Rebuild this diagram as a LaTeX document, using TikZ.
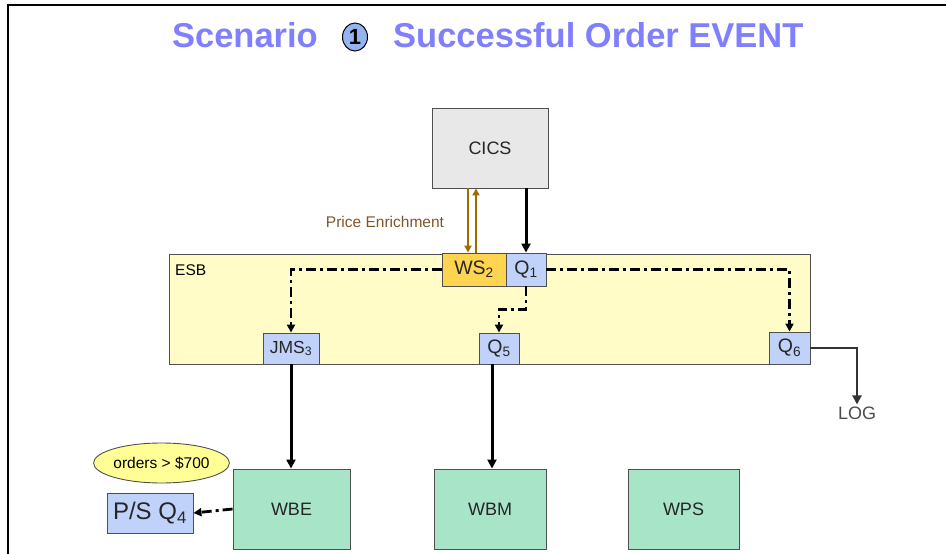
\documentclass[tikz,border=0pt]{standalone}
\usepackage{fontspec}
\setmainfont{Liberation Sans}
\usetikzlibrary{arrows.meta,shapes.geometric}
\definecolor{titleblue}{RGB}{128,128,255}
\definecolor{circblue}{RGB}{148,180,240}
\definecolor{cicsgray}{RGB}{232,232,232}
\definecolor{esbyellow}{RGB}{255,252,200}
\definecolor{wsgold}{RGB}{255,212,80}
\definecolor{qblue}{RGB}{192,210,250}
\definecolor{mint}{RGB}{168,228,200}
\definecolor{ellyellow}{RGB}{255,255,150}
\definecolor{brownarr}{RGB}{160,106,0}
\definecolor{browntxt}{RGB}{130,85,40}
\definecolor{edgegray}{RGB}{80,80,80}
\begin{document}
\begin{tikzpicture}[x=1pt,y=-1pt,
  boxstyle/.style={draw=edgegray, line width=0.9pt, inner sep=0pt, text=black!85},
  conn/.style={line width=3pt, -{Triangle[length=9pt,width=9pt]}},
  dashdot/.style={line width=2.8pt, dash pattern=on 10pt off 4pt on 3pt off 4pt, -{Triangle[length=8pt,width=8pt]}},
  brownline/.style={draw=brownarr, line width=2.6pt, -{Triangle[length=7pt,width=7pt]}}
]
\useasboundingbox (0,0) rectangle (946,554);
% frame
\draw[line width=1.8pt] (8,554) -- (8,5) -- (946,5);

% title
\node[anchor=base east, text=titleblue, font=\fontsize{34.5}{36}\selectfont\bfseries, inner sep=0pt] (t1) at (318,47) {Scenario};
\node[ellipse, draw=black, line width=1pt, fill=circblue, minimum width=25pt, minimum height=28pt, inner sep=0pt, font=\fontsize{22}{24}\selectfont\bfseries] (c1) at (355,37) {1};
\node[anchor=base west, text=titleblue, font=\fontsize{34.5}{36}\selectfont\bfseries, inner sep=0pt] (t2) at (393,47) {Successful Order EVENT};

% ESB
\node[boxstyle, fill=esbyellow, minimum width=641pt, minimum height=110pt] (esb) at (489.5,309) {};
\node[anchor=base west, font=\fontsize{15.5}{17}\selectfont, inner sep=0pt] (esblbl) at (175,275) {ESB};

% CICS
\node[boxstyle, fill=cicsgray, minimum width=116pt, minimum height=80pt, font=\fontsize{18}{20}\selectfont] (cics) at (490,148) {CICS};

% WS2, Q1
\node[boxstyle, fill=wsgold, minimum width=64pt, minimum height=33pt, font=\fontsize{19.5}{21}\selectfont] (ws) at (474,269.5) {WS\textsubscript{2}};
\node[boxstyle, fill=qblue, minimum width=40pt, minimum height=33pt, font=\fontsize{19.5}{21}\selectfont] (q1) at (526,269.5) {Q\textsubscript{1}};

% JMS3, Q5, Q6
\node[boxstyle, fill=qblue, minimum width=56pt, minimum height=31pt, font=\fontsize{17.5}{19}\selectfont] (jms) at (291,348.5) {JMS\textsubscript{3}};
\node[boxstyle, fill=qblue, minimum width=40pt, minimum height=31pt, font=\fontsize{19.5}{21}\selectfont] (q5) at (499,348.5) {Q\textsubscript{5}};
\node[boxstyle, fill=qblue, minimum width=41pt, minimum height=32pt, font=\fontsize{19.5}{21}\selectfont] (q6) at (789.5,348) {Q\textsubscript{6}};

% bottom boxes
\node[boxstyle, fill=mint, minimum width=117pt, minimum height=80pt, font=\fontsize{18}{20}\selectfont] (wbe) at (291.5,509) {WBE};
\node[boxstyle, fill=mint, minimum width=112pt, minimum height=80pt, font=\fontsize{18}{20}\selectfont] (wbm) at (490,509) {WBM};
\node[boxstyle, fill=mint, minimum width=111pt, minimum height=80pt, font=\fontsize{18}{20}\selectfont] (wps) at (683.5,509) {WPS};

\node[ellipse, draw=edgegray, line width=0.9pt, fill=ellyellow, minimum width=129pt, minimum height=40pt, inner sep=0pt, font=\fontsize{15.5}{17}\selectfont] (ell) at (161.5,463) {orders > \$700};
\node[boxstyle, fill=qblue, minimum width=86pt, minimum height=40pt, font=\fontsize{24}{26}\selectfont] (psq) at (150,513) {P/S Q\textsubscript{4}};

\node[text=black!70, font=\fontsize{18}{20}\selectfont, inner sep=2pt] (log) at (857,413) {LOG};

% Price Enrichment
\node[text=browntxt, font=\fontsize{15.5}{17}\selectfont, inner sep=0pt] (pe) at (385,222) {Price Enrichment};

% connectors
\draw[brownline] ([xshift=-6pt]ws.north |- cics.south) -- ([xshift=-6pt]ws.north);
\draw[brownline] ([xshift=2pt]ws.north) -- ([xshift=2pt]ws.north |- cics.south);
\draw[conn] (q1.north |- cics.south) -- (q1.north);

\draw[dashdot] (ws.west) -| (jms.north);
\draw[dashdot] (q1.south) -- ++(0,23) -| (q5.north);
\draw[dashdot] (q1.east) -| (q6.north);

\draw[conn, draw=black!80, line width=2.4pt] (q6.east) -| (log.north);

\draw[conn] (jms.south) -- (jms.south |- wbe.north);
\draw[conn] ([xshift=-7pt]q5.south) -- ([xshift=-7pt]q5.south |- wbm.north);

\draw[dashdot] (wbe.west) -- (psq.east);
\end{tikzpicture}
\end{document}
